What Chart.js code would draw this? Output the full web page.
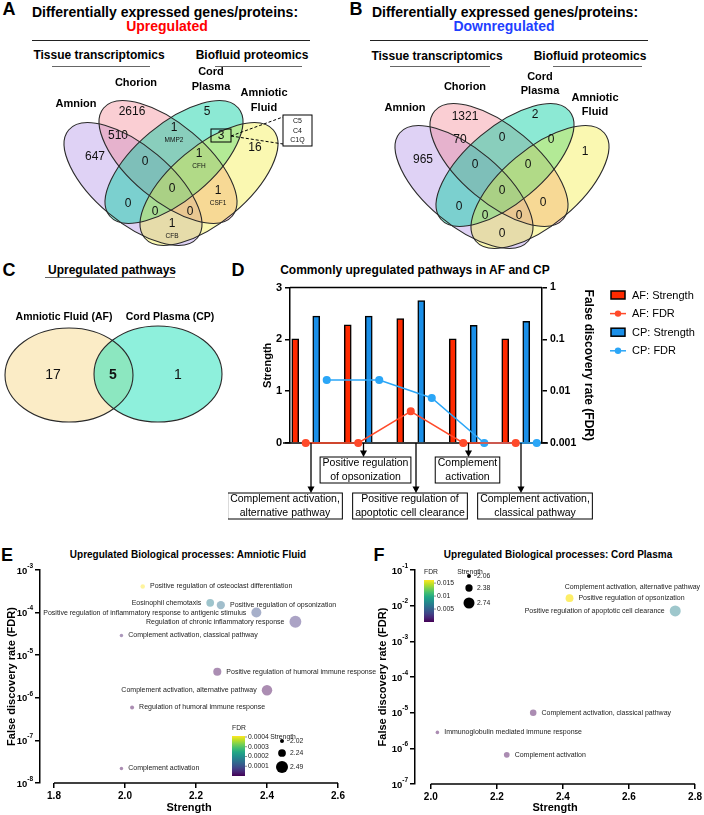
<!DOCTYPE html>
<html><head><meta charset="utf-8">
<script src="https://cdn.jsdelivr.net/npm/chart.js@4.4.1/dist/chart.umd.min.js"></script>
<style>
html,body{margin:0;padding:0;background:#fff;}
#page{position:relative;width:704px;height:815px;overflow:hidden;font-family:"Liberation Sans",Arial,Helvetica,sans-serif;color:#000;}
#page canvas{position:absolute;}
.t{position:absolute;white-space:nowrap;transform:translate(-50%,-50%);font-weight:bold;line-height:1;}
.rule{position:absolute;height:0;border-top:1px solid #222;}
.rule.g{border-top-color:#666;}
</style></head><body>
<div id="page">
  <div class="t" style="left:9px;top:9px;font-size:18px">A</div>
  <div class="t" style="left:165px;top:12px;font-size:14px">Differentially expressed genes/proteins:</div>
  <div class="t" style="left:167px;top:26px;font-size:14px;color:#ff0000">Upregulated</div>
  <div class="rule" style="left:32px;top:40px;width:278px"></div>
  <div class="t" style="left:99px;top:55px;font-size:12px">Tissue transcriptomics</div>
  <div class="rule g" style="left:52px;top:66px;width:98px"></div>
  <div class="t" style="left:252px;top:55px;font-size:12px">Biofluid proteomics</div>
  <div class="rule g" style="left:215px;top:66px;width:87px"></div>

  <div class="t" style="left:356px;top:9px;font-size:18px">B</div>
  <div class="t" style="left:505px;top:12px;font-size:14px">Differentially expressed genes/proteins:</div>
  <div class="t" style="left:504px;top:26px;font-size:14px;color:#1f3fff">Downregulated</div>
  <div class="rule" style="left:370px;top:40px;width:278px"></div>
  <div class="t" style="left:437px;top:56px;font-size:12px">Tissue transcriptomics</div>
  <div class="rule g" style="left:390px;top:66px;width:100px"></div>
  <div class="t" style="left:590px;top:56px;font-size:12px">Biofluid proteomics</div>
  <div class="rule g" style="left:553px;top:66px;width:89px"></div>

  <div class="t" style="left:9px;top:270px;font-size:18px">C</div>
  <div class="t" style="left:112px;top:270px;font-size:12px">Upregulated pathways</div>
  <div class="rule g" style="left:45px;top:277px;width:130px"></div>

  <div class="t" style="left:238px;top:270px;font-size:18px">D</div>
  <div class="t" style="left:415px;top:270px;font-size:12px">Commonly upregulated pathways in AF and CP</div>

  <div class="t" style="left:7px;top:555px;font-size:18px">E</div>
  <div class="t" style="left:188px;top:555px;font-size:10px">Upregulated Biological processes: Amniotic Fluid</div>
  <div class="t" style="left:379px;top:555px;font-size:18px">F</div>
  <div class="t" style="left:558px;top:555px;font-size:10px">Upregulated Biological processes: Cord Plasma</div>

  <canvas id="vennA" width="352" height="200" style="left:0;top:60px"></canvas>
  <canvas id="vennB" width="352" height="200" style="left:352px;top:60px"></canvas>
  <canvas id="vennC" width="230" height="140" style="left:0;top:300px"></canvas>
  <canvas id="chartD" width="476" height="250" style="left:228px;top:278px"></canvas>
  <canvas id="chartF" width="352" height="255" style="left:352px;top:560px"></canvas>
  <canvas id="chartE" width="380" height="255" style="left:0;top:560px"></canvas>
</div>
<script>
// ---- data ----
const vennSets = ['Amnion', 'Chorion', 'Cord Plasma', 'Amniotic Fluid'];
// regions: A, C, CP, AF, A∩C, C∩CP, CP∩AF, A∩C∩CP, C∩CP∩AF, all, A∩CP, C∩AF, A∩CP∩AF, A∩C∩AF, A∩AF
const upCounts = [647, 2616, 5, 16, 510, 1, 3, 0, 1, 0, 0, 1, 0, 0, 1];
const upGenes = ['', '', '', '', '', 'MMP2', '', '', 'CFH', '', '', 'CSF1', '', '', 'CFB'];
const boxedGenes = ['C5', 'C4', 'C1Q'];
const downCounts = [965, 1321, 2, 1, 70, 0, 0, 0, 0, 0, 0, 0, 0, 0, 0];

const pathwaySets = ['Amniotic Fluid (AF)', 'Cord Plasma (CP)'];
const pathwayCounts = [17, 5, 1];

const pathwaysD = [
  ['Complement activation,', 'alternative pathway'],
  ['Positive regulation', 'of opsonization'],
  ['Positive regulation of', 'apoptotic cell clearance'],
  ['Complement', 'activation'],
  ['Complement activation,', 'classical pathway']
];
const afStrength = [2.01, 2.28, 2.40, 2.01, 2.01];
const cpStrength = [2.45, 2.45, 2.75, 2.27, 2.35];
const afFdr = [0.001, 0.001, 0.0041, 0.001, 0.001];
const cpFdr = [0.0164, 0.0164, 0.0074, 0.001, 0.001];
const strengthTicks = [0, 1, 2, 3];
const fdrTicks = [0.001, 0.01, 0.1, 1];

const labelsE = ['Positive regulation of osteoclast differentiation', 'Eosinophil chemotaxis',
  'Positive regulation of opsonization', 'Positive regulation of inflammatory response to antigenic stimulus',
  'Regulation of chronic inflammatory response', 'Complement activation, classical pathway',
  'Positive regulation of humoral immune response', 'Complement activation, alternative pathway',
  'Regulation of humoral immune response', 'Complement activation'];
const strengthE = [2.05, 2.24, 2.27, 2.37, 2.48, 1.99, 2.26, 2.40, 2.02, 1.99];
const fdrE = [4.1e-4, 1.7e-4, 1.5e-4, 1.0e-4, 6.1e-5, 2.9e-5, 4.1e-6, 1.5e-6, 5.9e-7, 2.2e-8];
const sizeTicksE = [2.02, 2.24, 2.49];
const colorTicksE = [0.0001, 0.0002, 0.0003, 0.0004];

const labelsF = ['Complement activation, alternative pathway', 'Positive regulation of opsonization',
  'Positive regulation of apoptotic cell clearance', 'Complement activation, classical pathway',
  'Immunoglobulin mediated immune response', 'Complement activation'];
const strengthF = [2.42, 2.42, 2.74, 2.31, 2.02, 2.23];
const fdrF = [0.0162, 0.0162, 0.0071, 1.0e-5, 2.8e-6, 6.6e-7];
const sizeTicksF = [2.06, 2.38, 2.74];
const colorTicksF = [0.005, 0.01, 0.015];

const xTicksE = [1.8, 2.0, 2.2, 2.4, 2.6];
const xTicksF = [2.0, 2.2, 2.4, 2.6, 2.8];
const yTicksE = [1e-8, 1e-7, 1e-6, 1e-5, 1e-4, 1e-3];
const yTicksF = [1e-7, 1e-6, 1e-5, 1e-4, 1e-3, 1e-2, 1e-1];

// ---- layout ----
const FONT = '"Liberation Sans", Arial, Helvetica, sans-serif';
Chart.defaults.font.family = FONT;
Chart.defaults.color = '#000';
Chart.defaults.animation = false;
const RAD = Math.PI / 180;

const fills4 = ['rgba(165,130,228,0.36)', 'rgba(242,118,132,0.36)', 'rgba(0,206,160,0.45)', 'rgba(242,236,50,0.38)'];
function ellipses4(dx, dy) {
  const g = [[133, 184, 40], [168, 162, 40], [174, 162, -40], [209, 184, -40]];
  return g.map((e, i) => ({cx: e[0] + dx, cy: e[1] + dy, a: 84, b: 38, rot: e[2], fill: fills4[i]}));
}
const regionPosA = [[95,157],[132,112],[207,112],[255,148],[118,136],[174,128],[221,136],[145,162],[199,154],[172,189],[128,204],[218,191],[155,212],[190,212],[172,224]];
const regionPosB = [[423,160],[465,117],[535,115],[585,152],[460,140],[502,138],[551,140],[475,165],[528,165],[502,191],[459,207],[543,203],[485,216],[519,216],[502,234]];
const setPosA = [[76,104],[136,83],[211,72],[264,93]];
const setPosB = [[405,108],[465,87],[540,77],[595,98]];

function vennChart(id, xr, yr, cfg) {
  const plugin = {
    id: 'venn_' + id,
    beforeDatasetsDraw(chart) {
      const {ctx, scales: {x, y}} = chart;
      ctx.save();
      cfg.ellipses.forEach(e => {
        ctx.beginPath();
        ctx.ellipse(x.getPixelForValue(e.cx), y.getPixelForValue(e.cy), e.a, e.b, e.rot * RAD, 0, 2 * Math.PI);
        ctx.fillStyle = e.fill; ctx.fill();
      });
      ctx.strokeStyle = '#2a2a2a'; ctx.lineWidth = 1.1;
      cfg.ellipses.forEach(e => {
        ctx.beginPath();
        ctx.ellipse(x.getPixelForValue(e.cx), y.getPixelForValue(e.cy), e.a, e.b, e.rot * RAD, 0, 2 * Math.PI);
        ctx.stroke();
      });
      ctx.restore();
    },
    afterDatasetsDraw(chart) {
      const {ctx, scales: {x, y}} = chart;
      const meta = chart.getDatasetMeta(0);
      ctx.save();
      ctx.fillStyle = '#111'; ctx.textAlign = 'center'; ctx.textBaseline = 'middle';
      meta.data.forEach((pt, i) => {
        ctx.font = (cfg.bold && cfg.bold[i] ? 'bold ' : '') + cfg.numSize + 'px ' + FONT;
        ctx.fillText(String(cfg.counts[i]), pt.x, pt.y);
        if (cfg.genes && cfg.genes[i]) {
          ctx.font = '6.5px ' + FONT;
          ctx.fillText(cfg.genes[i], pt.x, pt.y + 12);
        }
      });
      ctx.fillStyle = '#000';
      ctx.font = 'bold ' + cfg.setSize + 'px ' + FONT;
      cfg.sets.forEach((lines, i) => {
        const [lx, ly] = cfg.setPos[i];
        lines.forEach((ln, j) => ctx.fillText(ln, x.getPixelForValue(lx), y.getPixelForValue(ly + j * cfg.lineGap)));
      });
      if (cfg.extra) cfg.extra(ctx, v => x.getPixelForValue(v), v => y.getPixelForValue(v));
      ctx.restore();
    }
  };
  new Chart(document.getElementById(id), {
    type: 'scatter',
    data: {datasets: [{data: cfg.pos.map(p => ({x: p[0], y: p[1]})), pointRadius: 0}]},
    options: {
      responsive: false,
      layout: {padding: 0},
      plugins: {legend: {display: false}, tooltip: {enabled: false}},
      scales: {
        x: {type: 'linear', min: xr[0], max: xr[1], display: false},
        y: {type: 'linear', min: yr[0], max: yr[1], reverse: true, display: false}
      }
    },
    plugins: [plugin]
  });
}

vennChart('vennA', [0, 352], [60, 260], {
  ellipses: ellipses4(0, 0), counts: upCounts, genes: upGenes, pos: regionPosA, numSize: 12,
  sets: vennSets.map(s => s.split(' ')), setPos: setPosA, setSize: 11, lineGap: 14.5,
  extra(ctx, P, Q) {
    const [bx, by] = regionPosA[6];
    ctx.strokeStyle = '#000'; ctx.lineWidth = 1;
    ctx.strokeRect(P(bx - 10), Q(by - 7), 20, 13);
    ctx.setLineDash([3, 2]);
    ctx.beginPath();
    ctx.moveTo(P(bx + 10), Q(by)); ctx.lineTo(P(283), Q(117));
    ctx.moveTo(P(bx + 10), Q(by)); ctx.lineTo(P(283), Q(144));
    ctx.stroke();
    ctx.setLineDash([]);
    ctx.fillStyle = '#fff';
    ctx.fillRect(P(283), Q(115), 29, 31);
    ctx.strokeRect(P(283), Q(115), 29, 31);
    ctx.fillStyle = '#111'; ctx.font = '7px ' + FONT;
    boxedGenes.forEach((g, i) => ctx.fillText(g, P(297.5), Q(121 + i * 9.7)));
  }
});
vennChart('vennB', [352, 704], [60, 260], {
  ellipses: ellipses4(331, 3), counts: downCounts, pos: regionPosB, numSize: 12,
  sets: vennSets.map(s => s.split(' ')), setPos: setPosB, setSize: 11, lineGap: 13.5
});
vennChart('vennC', [0, 230], [300, 440], {
  ellipses: [
    {cx: 69, cy: 375, a: 64, b: 47, rot: 0, fill: 'rgba(245,210,120,0.42)'},
    {cx: 158, cy: 374, a: 64, b: 48, rot: 0, fill: 'rgba(30,225,185,0.5)'}
  ],
  counts: pathwayCounts, bold: [false, true, false], pos: [[53, 375], [113, 375], [178, 375]], numSize: 14,
  sets: pathwaySets.map(s => [s]), setPos: [[64, 317], [170, 317]], setSize: 10.5, lineGap: 0
});

// ---- D: grouped bars + FDR lines ----
const SLOTS = 5;
const NSLOT = pathwaysD.length * SLOTS - 1;
function slotted(arr, k) {
  const out = new Array(NSLOT).fill(null);
  arr.forEach((v, i) => { out[i * SLOTS + k] = v; });
  return out;
}
const RED = '#ff2a00', RED_L = '#ff4a2a', BLUE = '#1a8fe8', BLUE_L = '#2ba6f7';
const boxRowD = [1, 0, 1, 0, 1];
const boxShiftD = [-26, 2, -6, -1, 14];
const dLeft = 228, dTop = 278;

const dExtras = {
  id: 'dExtras',
  beforeDatasetsDraw(chart) {
    const {ctx, chartArea: ca} = chart;
    ctx.save(); ctx.strokeStyle = '#000'; ctx.lineWidth = 1.5;
    ctx.beginPath();
    ctx.moveTo(ca.left - 7, ca.bottom); ctx.lineTo(ca.right + 6, ca.bottom);
    ctx.moveTo(ca.left, ca.top); ctx.lineTo(ca.right, ca.top);
    ctx.stroke(); ctx.restore();
  },
  afterDraw(chart) {
    const {ctx, chartArea: ca, scales: {x}} = chart;
    ctx.save();
    ctx.font = '10.5px ' + FONT; ctx.textAlign = 'center'; ctx.textBaseline = 'middle';
    ctx.fillStyle = '#000'; ctx.strokeStyle = '#000';
    pathwaysD.forEach((lines, i) => {
      const ax = x.getPixelForValue(i * SLOTS + 1.5);
      const top = ca.bottom + (boxRowD[i] ? 50 : 14);
      const cx = ax + boxShiftD[i];
      const w = Math.max(...lines.map(l => ctx.measureText(l).width)) + 5;
      ctx.lineWidth = 1.3;
      ctx.beginPath(); ctx.moveTo(ax, ca.bottom); ctx.lineTo(ax, top - 5); ctx.stroke();
      ctx.beginPath(); ctx.moveTo(ax - 3.5, top - 6.5); ctx.lineTo(ax + 3.5, top - 6.5); ctx.lineTo(ax, top); ctx.closePath(); ctx.fill();
      ctx.lineWidth = 1;
      ctx.strokeRect(cx - w / 2, top, w, 26);
      lines.forEach((l, j) => ctx.fillText(l, cx, top + 6.5 + j * 13.5));
    });
    // legend
    ctx.translate(-dLeft, -dTop);
    const items = chart.data.datasets.slice().sort((a, b) => a.legendIndex - b.legendIndex);
    ctx.textAlign = 'left'; ctx.font = '11px ' + FONT;
    items.forEach((ds, i) => {
      const yy = 295 + i * 18.6;
      if (ds.type === 'bar') {
        ctx.fillStyle = ds.backgroundColor; ctx.fillRect(611, yy - 4, 14, 8);
        ctx.lineWidth = 1.5; ctx.strokeStyle = '#000'; ctx.strokeRect(611, yy - 4, 14, 8);
      } else {
        ctx.strokeStyle = ds.borderColor; ctx.lineWidth = 1.5;
        ctx.beginPath(); ctx.moveTo(610, yy); ctx.lineTo(626, yy); ctx.stroke();
        ctx.fillStyle = ds.borderColor; ctx.beginPath(); ctx.arc(618, yy, 3.2, 0, 2 * Math.PI); ctx.fill();
      }
      ctx.fillStyle = '#000'; ctx.fillText(ds.label, 632, yy + 0.5);
    });
    ctx.restore();
  }
};

new Chart(document.getElementById('chartD'), {
  type: 'bar',
  data: {
    labels: new Array(NSLOT).fill(''),
    datasets: [
      {type: 'line', label: 'AF: FDR', legendIndex: 1, data: slotted(afFdr, 1), yAxisID: 'y1', borderColor: RED_L, backgroundColor: RED_L,
        pointRadius: 3.3, borderWidth: 1.5, spanGaps: true, order: 0, clip: false},
      {type: 'line', label: 'CP: FDR', legendIndex: 3, data: slotted(cpFdr, 3), yAxisID: 'y1', borderColor: BLUE_L, backgroundColor: BLUE_L,
        pointRadius: 3.3, borderWidth: 1.5, spanGaps: true, order: 0, clip: false},
      {type: 'bar', label: 'AF: Strength', legendIndex: 0, data: slotted(afStrength, 0), yAxisID: 'y', backgroundColor: RED,
        borderColor: '#000', borderWidth: 1.5, barThickness: 7, grouped: false, order: 1},
      {type: 'bar', label: 'CP: Strength', legendIndex: 2, data: slotted(cpStrength, 2), yAxisID: 'y', backgroundColor: BLUE,
        borderColor: '#000', borderWidth: 1.5, barThickness: 7, grouped: false, order: 1}
    ]
  },
  options: {
    responsive: false,
    layout: {padding: {left: 0, top: 7, right: 104, bottom: 0}},
    plugins: {legend: {display: false}, tooltip: {enabled: false}},
    scales: {
      x: {type: 'category', offset: true, ticks: {display: false}, grid: {display: false}, border: {display: false},
        afterFit: s => { s.height = 85; }},
      y: {position: 'left', min: 0, max: 3,
        afterBuildTicks: s => { s.ticks = strengthTicks.map(v => ({value: v})); },
        afterFit: s => { s.width = 62; },
        ticks: {font: {size: 11, weight: 'bold'}, color: '#000', padding: 3},
        grid: {display: true, drawOnChartArea: false, tickLength: 5, color: '#000', lineWidth: 1.5},
        border: {display: true, color: '#000', width: 1.5},
        title: {display: true, text: 'Strength', font: {size: 11, weight: 'bold'}, color: '#000', padding: {top: 33, bottom: 0}}},
      y1: {type: 'logarithmic', position: 'right', min: 0.001, max: 1,
        afterBuildTicks: s => { s.ticks = fdrTicks.map(v => ({value: v})); },
        afterFit: s => { s.width = 58; },
        ticks: {font: {size: 10.5, weight: 'bold'}, color: '#000', padding: 3, callback: v => String(v)},
        grid: {display: true, drawOnChartArea: false, tickLength: 5, color: '#000', lineWidth: 1.5},
        border: {display: true, color: '#000', width: 1.5},
        title: {display: true, text: 'False discovery rate (FDR)', font: {size: 12, weight: 'bold'}, color: '#000', padding: {top: 4, bottom: 0}}}
    }
  },
  plugins: [dExtras]
});

// ---- E / F bubble charts ----
const VIR = ['#440154','#482475','#414487','#355f8d','#2a788e','#21918c','#22a884','#44bf70','#7ad151','#bddf26','#fde725'];
function hex(h) { return [1, 3, 5].map(k => parseInt(h.substr(k, 2), 16)); }
function viridis(t, a) {
  t = Math.max(0, Math.min(1, t));
  const p = t * 10, i = Math.min(9, Math.floor(p)), f = p - i;
  const c0 = hex(VIR[i]), c1 = hex(VIR[i + 1]);
  const c = c0.map((v, k) => Math.round(v + (c1[k] - v) * f));
  return 'rgba(' + c.join(',') + ',' + a + ')';
}

function bubblePanel(o) {
  const cmax = Math.max(...o.fdr);
  const sMin = o.sizeTicks[0], sMax = o.sizeTicks[o.sizeTicks.length - 1];
  const rOf = s => Math.max(1.6, o.rMin + (s - sMin) / (sMax - sMin) * (o.rMax - o.rMin));
  const extras = {
    id: 'bx_' + o.id,
    afterDatasetsDraw(chart) {
      const {ctx, chartArea: ca, scales: {x, y}} = chart;
      const meta = chart.getDatasetMeta(0);
      ctx.save();
      ctx.strokeStyle = '#000'; ctx.lineWidth = 1.5;
      ctx.beginPath();
      ctx.moveTo(x.getPixelForValue(o.xTicks[0]), ca.bottom);
      ctx.lineTo(x.getPixelForValue(o.xTicks[o.xTicks.length - 1]), ca.bottom);
      ctx.stroke();
      // y tick labels 10^n
      ctx.fillStyle = '#000'; ctx.textBaseline = 'middle'; ctx.textAlign = 'right';
      o.yTicks.forEach(v => {
        const py = y.getPixelForValue(v), e = String(Math.round(Math.log10(v)));
        ctx.font = 'bold 6.5px ' + FONT;
        const ew = ctx.measureText(e).width;
        ctx.fillText(e, ca.left - 7, py - 4);
        ctx.font = 'bold 9.5px ' + FONT;
        ctx.fillText('10', ca.left - 7 - ew, py + 1);
      });
      // bubble labels
      ctx.font = '7px ' + FONT; ctx.fillStyle = '#222';
      meta.data.forEach((el, i) => {
        const r = el.options.radius, side = o.sides[i];
        if (side === 'r') { ctx.textAlign = 'left'; ctx.fillText(o.labels[i], el.x + r + 5, el.y); }
        else if (side === 'l') { ctx.textAlign = 'right'; ctx.fillText(o.labels[i], el.x - r - 5, el.y); }
        else { ctx.textAlign = 'left'; ctx.fillText(o.labels[i], el.x - r - 1, el.y - 11); }
      });
      // colour bar and size legend (page coordinates)
      ctx.translate(-o.left, -o.top);
      const cb = o.cbar;
      const grad = ctx.createLinearGradient(0, cb.y + cb.h, 0, cb.y);
      VIR.forEach((c, k) => grad.addColorStop(k / 10, c));
      ctx.fillStyle = grad; ctx.fillRect(cb.x, cb.y, cb.w, cb.h);
      ctx.fillStyle = '#222'; ctx.font = '6.8px ' + FONT; ctx.textAlign = 'left';
      ctx.fillText('FDR', cb.x, cb.y - 8);
      ctx.strokeStyle = '#444'; ctx.lineWidth = 0.6;
      o.colorTicks.forEach(v => {
        const yy = cb.y + cb.h * (1 - v / cmax);
        ctx.beginPath(); ctx.moveTo(cb.x + cb.w, yy); ctx.lineTo(cb.x + cb.w + 2, yy); ctx.stroke();
        ctx.fillText(String(v), cb.x + cb.w + 3, yy);
      });
      const sl = o.sizeLeg;
      ctx.textAlign = 'center'; ctx.fillText('Strength', sl.x + 1, sl.titleY);
      o.sizeTicks.forEach((s, k) => {
        ctx.fillStyle = '#000';
        ctx.beginPath(); ctx.arc(sl.x, sl.ys[k], rOf(s), 0, 2 * Math.PI); ctx.fill();
        ctx.fillStyle = '#222'; ctx.textAlign = 'left';
        ctx.fillText(s.toFixed(2), sl.x + 8, sl.ys[k]);
      });
      ctx.restore();
    }
  };
  new Chart(document.getElementById(o.id), {
    type: 'bubble',
    data: {datasets: [{
      data: o.strength.map((s, i) => ({x: s, y: o.fdr[i]})),
      backgroundColor: c => viridis(c.raw.y / cmax, 0.45),
      radius: c => rOf(c.raw.x),
      borderWidth: 0, clip: false
    }]},
    options: {
      responsive: false,
      layout: {padding: {left: 0, top: 10, right: o.padRight, bottom: 0}},
      plugins: {legend: {display: false}, tooltip: {enabled: false}},
      scales: {
        x: {type: 'linear', min: o.xMin, max: o.xMax,
          afterBuildTicks: s => { s.ticks = o.xTicks.map(v => ({value: v})); },
          afterFit: s => { s.height = o.xH; },
          ticks: {font: {size: 10, weight: 'bold'}, color: '#000', padding: 2, maxRotation: 0, callback: v => Number(v).toFixed(1)},
          grid: {display: true, drawOnChartArea: false, tickLength: 5, color: '#000', lineWidth: 1.5},
          border: {display: false},
          title: {display: true, text: 'Strength', font: {size: 11, weight: 'bold'}, color: '#000', padding: {top: 0, bottom: 0}}},
        y: {type: 'logarithmic', min: o.yTicks[0], max: o.yTicks[o.yTicks.length - 1],
          afterBuildTicks: s => { s.ticks = o.yTicks.map(v => ({value: v})); },
          afterFit: s => { s.width = o.yW; },
          ticks: {display: false},
          grid: {display: true, drawOnChartArea: false, tickLength: 5, color: '#000', lineWidth: 1.5},
          border: {display: true, color: '#000', width: 1.5},
          title: {display: true, text: 'False discovery rate (FDR)', font: {size: 11, weight: 'bold'}, color: '#000', padding: {top: o.yTitlePad, bottom: 0}}}
      }
    },
    plugins: [extras]
  });
}

bubblePanel({
  id: 'chartE', left: 0, top: 560, labels: labelsE, strength: strengthE, fdr: fdrE,
  sides: ['r', 'l', 'r', 'l', 'l', 'r', 'r', 'l', 'r', 'r'],
  sizeTicks: sizeTicksE, colorTicks: colorTicksE, rMin: 2, rMax: 6,
  xTicks: xTicksE, xMin: 1.7606, xMax: 2.6, yTicks: yTicksE,
  yW: 40, xH: 32, padRight: 42, yTitlePad: 5,
  cbar: {x: 232, y: 736, w: 13, h: 40},
  sizeLeg: {x: 282, titleY: 737, ys: [741, 753, 767]}
});
bubblePanel({
  id: 'chartF', left: 352, top: 560, labels: labelsF, strength: strengthF, fdr: fdrF,
  sides: ['a', 'r', 'l', 'r', 'r', 'r'],
  sizeTicks: sizeTicksF, colorTicks: colorTicksF, rMin: 2, rMax: 5.5,
  xTicks: xTicksF, xMin: 1.9522, xMax: 2.8, yTicks: yTicksF,
  yW: 63, xH: 31, padRight: 5, yTitlePad: 24,
  cbar: {x: 424, y: 580, w: 10, h: 42},
  sizeLeg: {x: 469, titleY: 572, ys: [576, 588, 603]}
});
</script>
</body></html>
